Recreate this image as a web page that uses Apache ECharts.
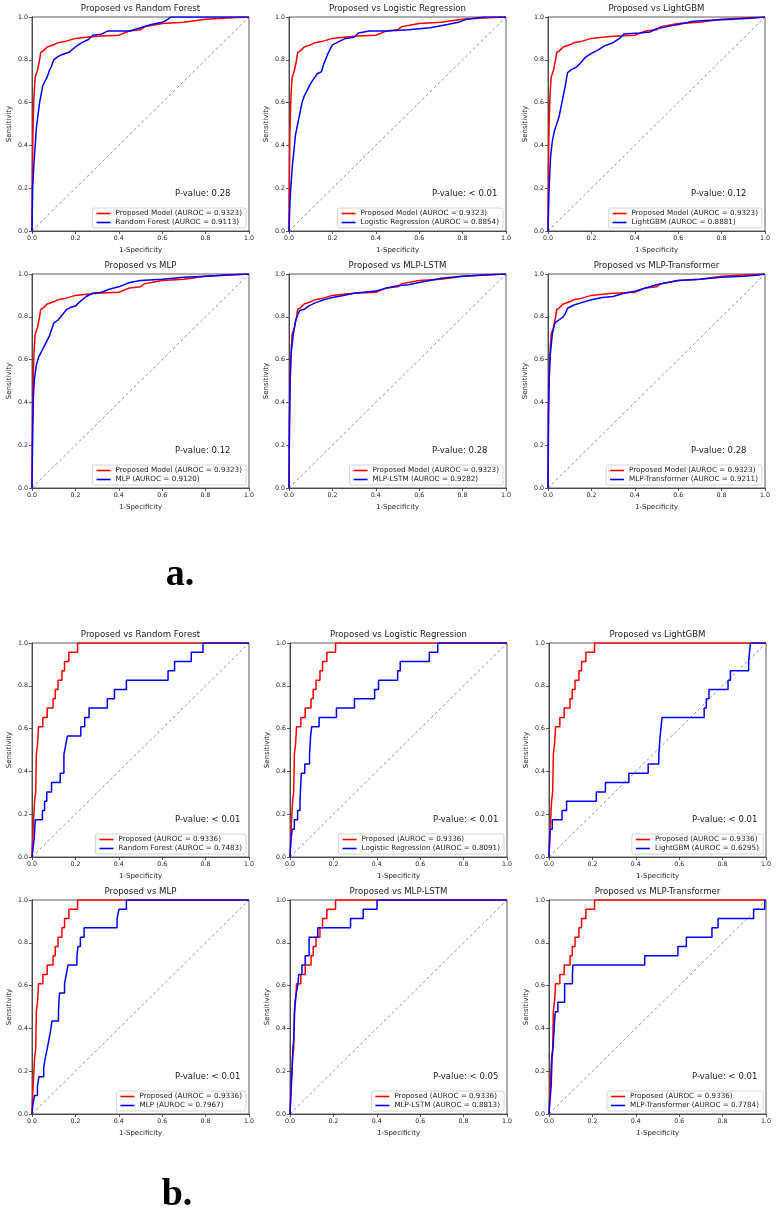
<!DOCTYPE html>
<html>
<head>
<meta charset="utf-8">
<title>ROC comparison</title>
<script src="https://cdn.jsdelivr.net/npm/echarts@6/dist/echarts.min.js"></script>
<style>
html, body { margin: 0; padding: 0; background: #fff; }
#chart { width: 777px; height: 1215px; }
</style>
</head>
<body>
<div id="chart"></div>
<script>
// ---- data: ROC points as [1-specificity, sensitivity] ----
const tickValues = [0, 0.2, 0.4, 0.6, 0.8, 1.0];
const diagonal = [[0, 0], [1, 1]];

// panel a
const aProposed = [[0,0],[0.002,0.25],[0.004,0.45],[0.008,0.6],[0.011,0.665],[0.015,0.72],[0.025,0.75],[0.03,0.775],[0.035,0.8],[0.04,0.835],[0.05,0.84],[0.06,0.85],[0.07,0.86],[0.1,0.87],[0.12,0.88],[0.15,0.885],[0.2,0.9],[0.25,0.905],[0.3,0.91],[0.4,0.915],[0.45,0.935],[0.5,0.94],[0.52,0.955],[0.55,0.96],[0.6,0.97],[0.7,0.975],[0.8,0.99],[0.9,0.995],[1,1]];
const aRandomForest = [[0,0],[0.003,0.2],[0.008,0.3],[0.02,0.48],[0.035,0.6],[0.05,0.68],[0.06,0.7],[0.07,0.72],[0.08,0.75],[0.09,0.77],[0.1,0.8],[0.12,0.815],[0.14,0.825],[0.17,0.835],[0.2,0.86],[0.23,0.88],[0.26,0.895],[0.28,0.915],[0.32,0.92],[0.35,0.935],[0.45,0.935],[0.5,0.95],[0.55,0.965],[0.6,0.975],[0.62,0.985],[0.64,1],[1,1]];
const aLogistic = [[0,0],[0.005,0.15],[0.015,0.3],[0.03,0.45],[0.04,0.5],[0.05,0.55],[0.06,0.6],[0.07,0.63],[0.08,0.65],[0.1,0.69],[0.12,0.72],[0.13,0.735],[0.15,0.745],[0.16,0.78],[0.18,0.83],[0.2,0.87],[0.23,0.885],[0.26,0.9],[0.3,0.905],[0.32,0.925],[0.37,0.935],[0.45,0.935],[0.55,0.94],[0.65,0.95],[0.73,0.965],[0.78,0.975],[0.82,0.99],[0.86,0.995],[0.9,1],[1,1]];
const aLightGBM = [[0,0],[0.005,0.2],[0.012,0.35],[0.02,0.42],[0.03,0.47],[0.05,0.53],[0.06,0.58],[0.07,0.63],[0.08,0.68],[0.09,0.74],[0.11,0.755],[0.13,0.765],[0.15,0.785],[0.17,0.81],[0.2,0.83],[0.23,0.845],[0.26,0.865],[0.3,0.88],[0.33,0.9],[0.35,0.92],[0.42,0.925],[0.47,0.93],[0.5,0.945],[0.55,0.955],[0.6,0.965],[0.67,0.98],[0.75,0.985],[0.85,0.99],[0.95,0.995],[1,1]];
const aMLP = [[0,0],[0.003,0.25],[0.006,0.42],[0.01,0.5],[0.02,0.575],[0.03,0.61],[0.04,0.63],[0.06,0.67],[0.08,0.71],[0.09,0.74],[0.1,0.77],[0.12,0.785],[0.14,0.81],[0.16,0.835],[0.18,0.845],[0.2,0.85],[0.22,0.87],[0.25,0.895],[0.28,0.91],[0.32,0.915],[0.36,0.93],[0.4,0.94],[0.45,0.96],[0.5,0.97],[0.6,0.975],[0.7,0.985],[0.8,0.99],[0.9,0.995],[1,1]];
const aLSTM = [[0,0],[0.002,0.3],[0.005,0.5],[0.01,0.63],[0.02,0.72],[0.03,0.78],[0.04,0.81],[0.05,0.83],[0.07,0.835],[0.09,0.85],[0.12,0.865],[0.16,0.88],[0.2,0.89],[0.25,0.9],[0.3,0.91],[0.4,0.92],[0.45,0.935],[0.5,0.945],[0.55,0.95],[0.6,0.96],[0.65,0.97],[0.7,0.98],[0.8,0.99],[0.9,0.995],[1,1]];
const aTransformer = [[0,0],[0.002,0.35],[0.005,0.5],[0.01,0.62],[0.02,0.72],[0.03,0.765],[0.035,0.775],[0.05,0.785],[0.07,0.8],[0.08,0.815],[0.09,0.84],[0.12,0.855],[0.15,0.865],[0.2,0.88],[0.25,0.89],[0.3,0.895],[0.35,0.91],[0.4,0.92],[0.45,0.935],[0.5,0.95],[0.6,0.97],[0.7,0.975],[0.8,0.985],[0.9,0.99],[0.97,0.995],[1,1]];

// panel b (staircase curves)
const bProposed = [[0,0],[0.005,0.13],[0.012,0.261],[0.017,0.304],[0.02,0.478],[0.025,0.522],[0.028,0.565],[0.03,0.609],[0.05,0.652],[0.07,0.696],[0.097,0.739],[0.107,0.783],[0.12,0.826],[0.138,0.87],[0.15,0.913],[0.17,0.957],[0.21,1],[1,1]];
const bRandomForest = [[0,0],[0.005,0.043],[0.01,0.087],[0.015,0.174],[0.048,0.217],[0.058,0.261],[0.068,0.304],[0.09,0.348],[0.13,0.391],[0.147,0.478],[0.155,0.522],[0.163,0.565],[0.225,0.609],[0.243,0.652],[0.263,0.696],[0.347,0.739],[0.38,0.783],[0.435,0.826],[0.627,0.87],[0.657,0.913],[0.734,0.957],[0.788,1],[1,1]];
const bLogistic = [[0,0],[0.005,0.087],[0.01,0.13],[0.02,0.174],[0.035,0.217],[0.046,0.261],[0.052,0.391],[0.068,0.435],[0.09,0.478],[0.095,0.565],[0.1,0.609],[0.134,0.652],[0.214,0.696],[0.297,0.739],[0.39,0.783],[0.408,0.826],[0.496,0.87],[0.508,0.913],[0.642,0.957],[0.681,1],[1,1]];
const bLightGBM = [[0,0],[0.005,0.13],[0.015,0.174],[0.06,0.217],[0.081,0.261],[0.218,0.304],[0.26,0.348],[0.368,0.391],[0.457,0.435],[0.506,0.478],[0.512,0.565],[0.521,0.652],[0.715,0.696],[0.725,0.739],[0.737,0.783],[0.825,0.826],[0.836,0.87],[0.92,0.913],[0.928,1],[1,1]];
const bMLP = [[0,0],[0.004,0.043],[0.012,0.087],[0.025,0.13],[0.032,0.174],[0.054,0.217],[0.061,0.261],[0.07,0.304],[0.078,0.348],[0.086,0.391],[0.092,0.435],[0.122,0.478],[0.124,0.522],[0.127,0.565],[0.15,0.609],[0.158,0.652],[0.166,0.696],[0.207,0.739],[0.212,0.783],[0.223,0.826],[0.24,0.87],[0.392,0.913],[0.401,0.957],[0.435,1],[1,1]];
const bLSTM = [[0,0],[0.006,0.13],[0.01,0.217],[0.013,0.304],[0.017,0.348],[0.02,0.435],[0.023,0.522],[0.029,0.565],[0.037,0.609],[0.04,0.652],[0.055,0.696],[0.07,0.739],[0.088,0.826],[0.128,0.87],[0.279,0.913],[0.337,0.957],[0.401,1],[1,1]];
const bTransformer = [[0,0],[0.003,0.043],[0.01,0.13],[0.014,0.261],[0.018,0.304],[0.026,0.435],[0.029,0.478],[0.041,0.522],[0.072,0.609],[0.108,0.652],[0.11,0.696],[0.441,0.739],[0.594,0.783],[0.633,0.826],[0.751,0.87],[0.779,0.913],[0.943,0.957],[0.994,1],[1,1]];

const modelNames = ['Random Forest', 'Logistic Regression', 'LightGBM', 'MLP', 'MLP-LSTM', 'MLP-Transformer'];
const aCurves = [aRandomForest, aLogistic, aLightGBM, aMLP, aLSTM, aTransformer];
const bCurves = [bRandomForest, bLogistic, bLightGBM, bMLP, bLSTM, bTransformer];
const aAuroc = ['0.9113', '0.8854', '0.8881', '0.9120', '0.9282', '0.9211'];
const bAuroc = ['0.7483', '0.8091', '0.6295', '0.7967', '0.8813', '0.7784'];
const aPValues = ['0.28', '< 0.01', '0.12', '0.12', '0.28', '0.28'];
const bPValues = ['< 0.01', '< 0.01', '< 0.01', '< 0.01', '< 0.05', '< 0.01'];
const aProposedName = 'Proposed Model (AUROC = 0.9323)';
const bProposedName = 'Proposed (AUROC = 0.9336)';

// ---- layout ----
const W = 777, H = 1215;
const FONT = 'DejaVu Sans';
const colLeftA = [32, 289, 548];
const colLeftB = [32, 290, 549];
const rowTop = [17, 274, 643, 900];
const plotW = 217, plotH = 214;

const grid = [], xAxis = [], yAxis = [], series = [], legend = [], graphic = [];

for (let p = 0; p < 12; p++) {
  const isB = p >= 6;
  const k = p % 6;
  const row = Math.floor(k / 3) + (isB ? 2 : 0);
  const col = k % 3;
  const left = (isB ? colLeftB : colLeftA)[col];
  const top = rowTop[row];

  grid.push({
    left: left, top: top, width: plotW, height: plotH,
    show: true, borderColor: '#333', borderWidth: 0.8, backgroundColor: 'transparent'
  });

  const axisCommon = {
    gridIndex: p, type: 'value', min: 0, max: 1, interval: 0.2,
    nameLocation: 'middle',
    nameTextStyle: { fontSize: 7, color: '#222', fontFamily: FONT },
    axisLine: { show: true, lineStyle: { color: '#333', width: 0.8 } },
    axisTick: { show: true, length: 3, lineStyle: { color: '#333', width: 0.8 } },
    axisLabel: { fontSize: 6.3, color: '#222', fontFamily: FONT, margin: 4, formatter: v => v.toFixed(1) },
    splitLine: { show: false }
  };
  xAxis.push(Object.assign({}, axisCommon, { name: '1-Specificity', nameGap: 16 }));
  yAxis.push(Object.assign({}, axisCommon, { name: 'Sensitivity', nameGap: 19 }));

  const propName = isB ? bProposedName : aProposedName;
  const otherName = modelNames[k] + ' (AUROC = ' + (isB ? bAuroc[k] : aAuroc[k]) + ')';

  series.push({
    type: 'line', xAxisIndex: p, yAxisIndex: p, data: diagonal, silent: true,
    symbol: 'none', lineStyle: { color: '#777', width: 0.8, type: [3, 2.5] }
  });
  series.push({
    name: propName, type: 'line', xAxisIndex: p, yAxisIndex: p,
    data: isB ? bProposed : aProposed, step: isB ? 'end' : false,
    symbol: 'none', itemStyle: { color: '#ff0000' }, lineStyle: { color: '#ff0000', width: 1.5 }
  });
  series.push({
    name: otherName, type: 'line', xAxisIndex: p, yAxisIndex: p,
    data: (isB ? bCurves : aCurves)[k], step: isB ? 'end' : false,
    symbol: 'none', itemStyle: { color: '#0000ff' }, lineStyle: { color: '#0000ff', width: 1.5 }
  });

  legend.push({
    data: [propName, otherName], orient: 'vertical',
    right: W - (left + plotW) + 3, bottom: H - (top + plotH) + 3,
    icon: 'rect', itemWidth: 14, itemHeight: 1.6, itemGap: 2,
    padding: [2, 4, 2, 4],
    backgroundColor: 'rgba(255,255,255,0.85)', borderColor: '#ccc', borderWidth: 0.8, borderRadius: 2,
    textStyle: { fontSize: 7.2, color: '#222', fontFamily: FONT },
    selectedMode: false
  });

  graphic.push({
    type: 'text', x: left + plotW / 2, y: top - 8,
    style: { text: 'Proposed vs ' + modelNames[k], align: 'center', verticalAlign: 'middle',
      fontSize: 8.6, fontFamily: FONT, fill: '#222' }
  });
  graphic.push({
    type: 'text', x: left + 143, y: top + plotH - 37,
    style: { text: 'P-value: ' + (isB ? bPValues[k] : aPValues[k]), align: 'left', verticalAlign: 'middle',
      fontSize: 8.5, fontFamily: FONT, fill: '#222' }
  });
}

// panel letters
graphic.push({
  type: 'text', x: 180, y: 575,
  style: { text: 'a.', align: 'center', verticalAlign: 'middle',
    fontSize: 38, fontWeight: 'bold', fontFamily: 'Liberation Serif', fill: '#000' }
});
graphic.push({
  type: 'text', x: 177, y: 1195,
  style: { text: 'b.', align: 'center', verticalAlign: 'middle',
    fontSize: 38, fontWeight: 'bold', fontFamily: 'Liberation Serif', fill: '#000' }
});

const chart = echarts.init(document.getElementById('chart'), null, { renderer: 'canvas' });
chart.setOption({
  animation: false,
  backgroundColor: '#fff',
  textStyle: { fontFamily: FONT },
  grid: grid,
  xAxis: xAxis,
  yAxis: yAxis,
  legend: legend,
  series: series,
  graphic: graphic
});
</script>
</body>
</html>
